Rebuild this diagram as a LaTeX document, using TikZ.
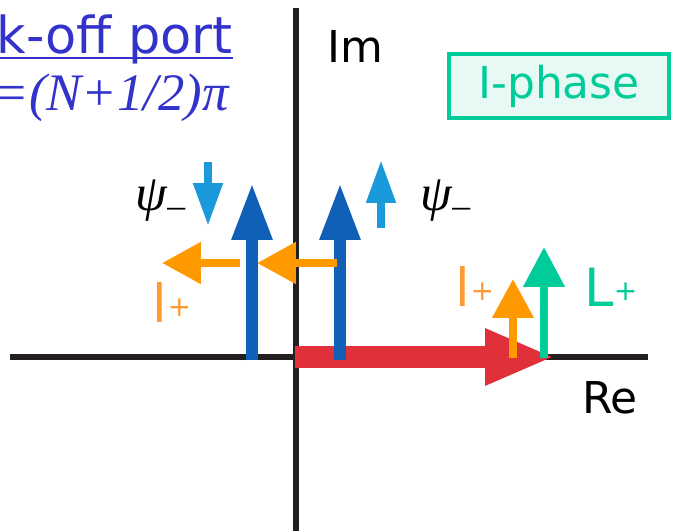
\documentclass[tikz,border=0pt]{standalone}
\usepackage{fontspec}
\setmainfont{DejaVu Sans}
\newfontfamily\serifit{Liberation Serif}
\usetikzlibrary{arrows.meta}
\definecolor{axGray}{HTML}{231F20}
\definecolor{titleBlue}{HTML}{3333CC}
\definecolor{arBlue}{HTML}{1060B8}
\definecolor{psBlue}{HTML}{1A99DB}
\definecolor{lOrange}{HTML}{FF9900}
\definecolor{lblOrange}{HTML}{FF9933}
\definecolor{LGreen}{HTML}{00CC99}
\definecolor{reRed}{HTML}{E0303A}
\definecolor{boxFill}{HTML}{E6F9F4}
\newcommand{\smallplus}{{\fontsize{16}{16}\selectfont\raisebox{3pt}{+}}}

\begin{document}
\begin{tikzpicture}[x=0.02cm,y=-0.02cm,
      lbl/.style={font=\fontsize{25}{30}\selectfont},
      big/.style={font=\fontsize{30}{34}\selectfont},
      ax/.style={draw=axGray,line width=0.12cm},
      upbig/.style={draw=arBlue,line width=0.24cm,-{Triangle[width=0.76cm,length=1.14cm]}},
      psiarr/.style={draw=psBlue,line width=0.16cm,-{Triangle[width=0.56cm,length=0.86cm]}},
      lplus/.style={draw=lOrange,line width=0.17cm,-{Triangle[width=0.8cm,length=0.78cm]}},
      Lplus/.style={draw=LGreen,line width=0.15cm,-{Triangle[width=0.8cm,length=0.8cm]}},
      rearr/.style={draw=reRed,line width=0.44cm,-{Triangle[width=1.04cm,length=1.4cm]}},
      psi/.style={font=\fontsize{29}{32}\selectfont\serifit\itshape}]
    \useasboundingbox (0,0) rectangle (673,531);
    % axes
    \coordinate (imTop) at (296,8);   \coordinate (imBot) at (296,531);
    \coordinate (reL)   at (10,357);  \coordinate (reR)   at (648,357);
    \draw[ax] (imTop) -- (imBot);
    \draw[ax] (reL) -- (reR);
    \node[lbl,anchor=base] (im) at (355,62) {Im};
    \node[lbl,anchor=base] (re) at (610,413) {Re};
    % title
    \node[font=\fontsize{29}{32}\selectfont,text=titleBlue,anchor=base east,inner sep=0pt] (port) at (233,53) {k-off port};
    \coordinate (ulA) at (0,58); \coordinate (ulB) at (233,58);
    \draw[titleBlue,line width=0.045cm] (ulA) -- (ulB);
    \node[font=\fontsize{30}{34}\selectfont\serifit\itshape,text=titleBlue,anchor=base east,inner sep=0pt] (cond) at (229,110) {=(N+1/2)π};
    \node[lbl,draw=LGreen,line width=0.08cm,fill=boxFill,text=LGreen,minimum width=4.4cm,minimum height=1.3cm] (phase) at (559,86) {I-phase};
    % fields
    \coordinate (re0) at (295,357); \coordinate (re1) at (555,357);
    \draw[rearr] (re0) -- (re1);
    \coordinate (bL0) at (252,360); \coordinate (bL1) at (252,183);
    \coordinate (bR0) at (340,360); \coordinate (bR1) at (340,183);
    \draw[upbig] (bL0) -- (bL1);
    \draw[upbig] (bR0) -- (bR1);
    \coordinate (pL0) at (208,162); \coordinate (pL1) at (208,226);
    \coordinate (pR0) at (381,228); \coordinate (pR1) at (381,160);
    \draw[psiarr] (pL0) -- (pL1);
    \draw[psiarr] (pR0) -- (pR1);
    \node[psi] (psiL) at (161,201) {ψ\textsubscript{–}};
    \node[psi] (psiR) at (446,201) {ψ\textsubscript{–}};
    \coordinate (oA0) at (240,263); \coordinate (oA1) at (162,263);
    \coordinate (oB0) at (337,263); \coordinate (oB1) at (257,263);
    \draw[lplus] (oA0) -- (oA1);
    \draw[lplus] (oB0) -- (oB1);
    \node[big,text=lblOrange] (lpL) at (172,302) {l\smallplus};
    \coordinate (oU0) at (513,358); \coordinate (oU1) at (513,279);
    \coordinate (gU0) at (544,358); \coordinate (gU1) at (544,247);
    \draw[lplus,line width=0.15cm] (oU0) -- (oU1);
    \draw[Lplus] (gU0) -- (gU1);
    \node[big,text=lblOrange] (lpR) at (475,286) {l\smallplus};
    \node[big,text=LGreen] (Lp) at (611,287) {L\smallplus};
  \end{tikzpicture}
\end{document}
